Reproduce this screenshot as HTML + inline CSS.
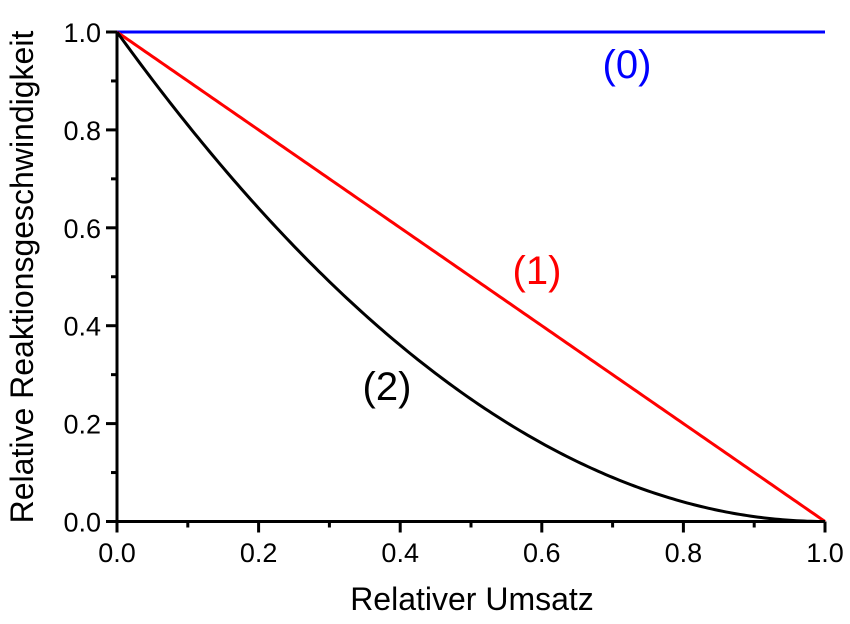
<!DOCTYPE html>
<html><head><meta charset="utf-8"><style>
body{margin:0;background:#fff;}
svg text{font-family:"Liberation Sans",Arial,sans-serif;}
</style></head><body>
<svg id="chart" width="850" height="619" viewBox="0 0 850 619" xmlns="http://www.w3.org/2000/svg">
<g id="axes"></g>
<g id="series"></g>
<text x="627" y="78" font-size="40" fill="#0000ff" text-anchor="middle">(0)</text>
<text x="537" y="284" font-size="40" fill="#ff0000" text-anchor="middle">(1)</text>
<text x="387" y="400" font-size="40" fill="#000" text-anchor="middle">(2)</text>
<text x="472" y="610" font-size="32" text-anchor="middle">Relativer Umsatz</text>
<text transform="translate(33,277) rotate(-90)" font-size="32" text-anchor="middle">Relative Reaktionsgeschwindigkeit</text>
</svg>
<script>
const xTicks=[0,0.2,0.4,0.6,0.8,1.0];
const yTicks=[0,0.2,0.4,0.6,0.8,1.0];
const xTickLabels=["0.0","0.2","0.4","0.6","0.8","1.0"];
const yTickLabels=["0.0","0.2","0.4","0.6","0.8","1.0"];
const orders=[0,1,2];
const seriesColors=["#0000ff","#ff0000","#000000"];
const X0=117,X1=825,Y0=521.5,Y1=32;
const sx=v=>X0+(X1-X0)*v, sy=v=>Y0-(Y0-Y1)*v;
const NS="http://www.w3.org/2000/svg";
function mk(tag,attrs,parent){const e=document.createElementNS(NS,tag);for(const k in attrs)e.setAttribute(k,attrs[k]);parent.appendChild(e);return e;}
const ax=document.getElementById('axes'), se=document.getElementById('series');
orders.forEach((n,i)=>{
  let d="";
  for(let k=0;k<=200;k++){const x=k/200;const y=Math.pow(1-x,n);d+=(k?"L":"M")+sx(x).toFixed(2)+","+sy(y).toFixed(2);}
  const p=mk('path',{d:d,fill:"none",stroke:seriesColors[i],"stroke-width":3},se);
  
  
});
const xl=mk('line',{x1:X0-1.5,y1:Y0,x2:X1,y2:Y0,stroke:"#000","stroke-width":3},ax);


const yl=mk('line',{x1:X0,y1:Y0+1.5,x2:X0,y2:Y1,stroke:"#000","stroke-width":3},ax);


xTicks.forEach((v,i)=>{
  const t=mk('line',{x1:sx(v),y1:Y0,x2:sx(v),y2:Y0+11,stroke:"#000","stroke-width":3},ax);
  
  
  const l=mk('text',{x:sx(v),y:562,"font-size":27,"text-anchor":"middle"},ax);l.textContent=xTickLabels[i];
  
  
  if(i<xTicks.length-1){const m=mk('line',{x1:sx(v+0.1),y1:Y0,x2:sx(v+0.1),y2:Y0+6,stroke:"#000","stroke-width":3},ax);
  
  }
});
yTicks.forEach((v,i)=>{
  const t=mk('line',{x1:X0-11,y1:sy(v),x2:X0,y2:sy(v),stroke:"#000","stroke-width":3},ax);
  
  
  const l=mk('text',{x:101,y:sy(v)+10,"font-size":27,"text-anchor":"end"},ax);l.textContent=yTickLabels[i];
  
  
  if(i<yTicks.length-1){const m=mk('line',{x1:X0-6,y1:sy(v+0.1),x2:X0,y2:sy(v+0.1),stroke:"#000","stroke-width":3},ax);
  
  }
});
</script>
</body></html>
